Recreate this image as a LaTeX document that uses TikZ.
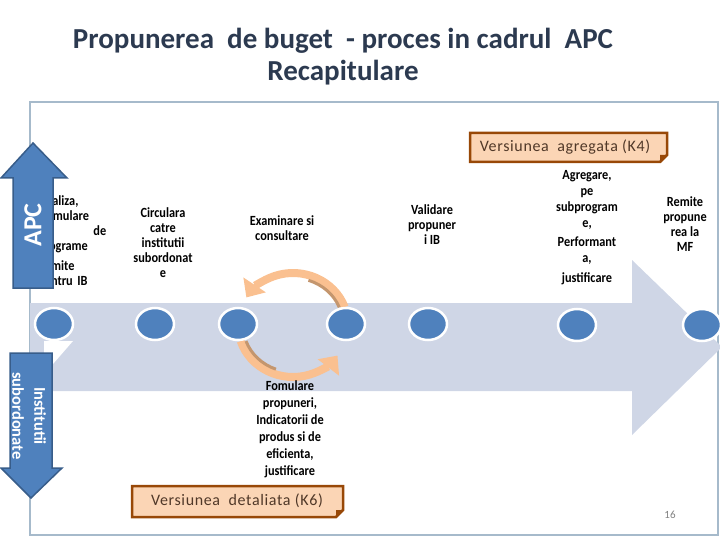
\documentclass[tikz,border=0pt]{standalone}
\usepackage{fontspec}
\setmainfont{Carlito}
\newfontfamily\spacedfont[LetterSpace=4]{Carlito}
\newfontfamily\narrowfont[FakeStretch=0.88]{Carlito}
\usetikzlibrary{shapes.geometric,arrows.meta}
\definecolor{framec}{RGB}{166,186,203}
\definecolor{bigarrowc}{RGB}{207,214,230}
\definecolor{dotblue}{RGB}{79,129,189}
\definecolor{blueborder}{RGB}{56,93,138}
\definecolor{peach}{RGB}{251,213,181}
\definecolor{brownc}{RGB}{152,72,7}
\definecolor{orangeA}{RGB}{250,192,144}
\definecolor{orangeD}{RGB}{196,150,110}
\definecolor{titlec}{RGB}{44,58,80}
\definecolor{ktext}{RGB}{80,56,40}
\tikzset{
  dot/.style={ellipse,fill=dotblue,draw=white,line width=2.5pt,minimum width=38pt,minimum height=32pt,inner sep=0pt},
  lbl/.style={align=center,inner sep=0pt,font=\fontsize{14}{15}\selectfont\narrowfont\bfseries},
  ktxt/.style={inner sep=0pt,text=ktext,font=\fontsize{16}{18}\selectfont\spacedfont},
  kbox/.style={fill=peach,draw=brownc,line width=2.5pt,line join=miter},
  bluearrow/.style={fill=dotblue,draw=blueborder,line width=1.5pt},
  loop/.style={draw=orangeA,line width=8pt,-{Triangle[width=26pt,length=15pt]}},
  loopshade/.style={draw=orangeD,line width=3pt}
}
\begin{document}
\begin{tikzpicture}[x=1pt,y=-1pt]
\useasboundingbox (0,0) rectangle (720,540);
\begin{scope}
\clip (0,0) rectangle (720,540);
% frame
\draw[framec,line width=1.5pt] (30,102) rectangle (718,535);
% big arrow
\fill[bigarrowc] (30,303) -- (632,303) -- (632,260) -- (722,347) -- (632,435) -- (632,391) -- (30,391) -- cycle;
\fill[white] (44,341) -- (73,341) -- (53,364) -- (44,364) -- cycle;
% loop arrows
\draw[loop] (293,325) ++(20:55pt and 52pt) arc[start angle=20,end angle=148,x radius=55pt,y radius=52pt];
\draw[loopshade] (293,325) ++(22:50pt and 47pt) arc[start angle=22,end angle=72,x radius=50pt,y radius=47pt];
\draw[loop] (293,325) ++(198:55pt and 52pt) arc[start angle=198,end angle=324,x radius=55pt,y radius=52pt];
\draw[loopshade] (293,325) ++(200:50pt and 47pt) arc[start angle=200,end angle=250,x radius=50pt,y radius=47pt];
% dots
\node[dot] (c1) at (54,324) {};
\node[dot] (c2) at (155,324) {};
\node[dot] (c3) at (238,324) {};
\node[dot] (c4) at (346,324) {};
\node[dot] (c5) at (428,324) {};
\node[dot] (c6) at (577,325) {};
\node[dot] (c7) at (702,325) {};
\end{scope}
% title
\node[align=center,text=titlec,font=\fontsize{29}{32}\selectfont\bfseries] (title) at (343,57)
  {Propunerea\ \ de buget\ \ - proces in cadrul\ \ APC\\Recapitulare};
% labels
\node[lbl,align=left,anchor=north west,text width=68pt] (analiza) at (38,195)
  {Analiza,\\formulare\\\hfill de\\programe\\[5pt]Remite\\pentru IB};
\node[lbl] (circ) at (163,243) {Circulara\\catre\\institutii\\subordonat\\e};
\node[lbl] (exam) at (282,228) {Examinare si\\consultare};
\node[lbl] (valid) at (432,225) {Validare\\propuner\\i IB};
\node[lbl,font=\fontsize{14}{16}\selectfont\narrowfont\bfseries] (agreg) at (587,228)
  {Agregare,\\pe\\subprogram\\e,\\[3pt]Performant\\a,\\[4pt]justificare};
\node[lbl] (remite) at (685,224) {Remite\\propune\\rea la\\MF};
\node[lbl,font=\fontsize{14}{17}\selectfont\narrowfont\bfseries] (fomul) at (290,429)
  {Fomulare\\propuneri,\\Indicatorii de\\produs si de\\eficienta,\\justificare};
% APC arrow
\draw[bluearrow] (13,288) -- (13,178) -- (1,178) -- (33,143) -- (67,178) -- (53,178) -- (53,288) -- cycle;
\node[rotate=90,text=white,font=\fontsize{26}{30}\selectfont\bfseries] (apc) at (33,225) {APC};
% Institutii arrow
\draw[bluearrow] (10,353) -- (52,353) -- (52,468) -- (62,468) -- (31,498) -- (1,468) -- (10,468) -- cycle;
\node[rotate=-90,align=center,text=white,font=\fontsize{16.5}{22}\selectfont\bfseries] (inst) at (29,416) {Institutii\\subordonate};
% K4 box
\draw[kbox] (470,133) -- (667,133) -- (667,155) -- (660,162) -- (470,162) -- cycle;
\fill[brownc] (660,155) -- (667,155) -- (660,162) -- cycle;
\node[ktxt] (k4) at (565,147) {Versiunea\ \ agregata (K4)};
% K6 box
\draw[kbox] (132,486) -- (343,486) -- (343,510) -- (336,517) -- (132,517) -- cycle;
\fill[brownc] (336,510) -- (343,510) -- (336,517) -- cycle;
\node[ktxt] (k6) at (237,501) {Versiunea\ \ detaliata (K6)};
% page number
\node[text=gray,font=\fontsize{11}{13}\selectfont] (pg) at (670,515) {16};
\end{tikzpicture}
\end{document}
